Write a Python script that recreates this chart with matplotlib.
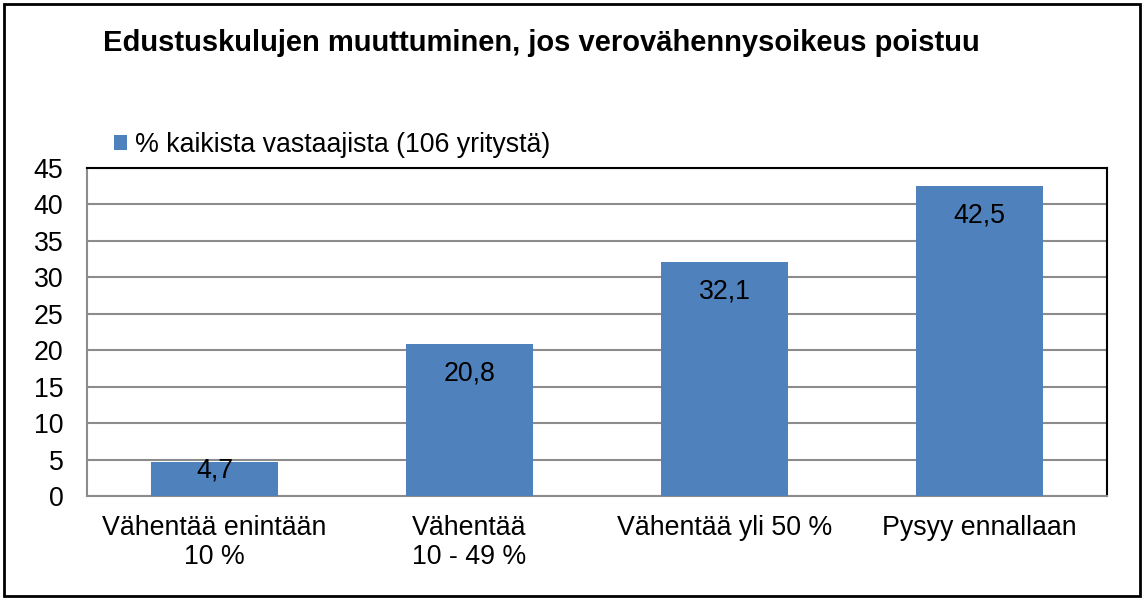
import matplotlib
matplotlib.use("Agg")
import matplotlib.pyplot as plt
from matplotlib.patches import Rectangle

plt.rcParams["font.family"] = ["Liberation Sans", "DejaVu Sans"]

categories = ["Vähentää enintään\n10 %", "Vähentää\n10 - 49 %", "Vähentää yli 50 %", "Pysyy ennallaan"]
values = [4.7, 20.8, 32.1, 42.5]
labels = ["4,7", "20,8", "32,1", "42,5"]
series_name = "% kaikista vastaajista (106 yritystä)"
title = "Edustuskulujen muuttuminen, jos verovähennysoikeus poistuu"

W, H = 1143, 599
fs = 19.3
fig = plt.figure(figsize=(W / 100, H / 100), dpi=100)
ax = fig.add_axes([87 / W, 1 - 496 / H, (1107 - 87) / W, (496 - 168) / H])

x = list(range(len(categories)))
bars = ax.bar(x, values, width=0.5, color="#4F81BD", label=series_name, zorder=3)

ax.set_xlim(-0.5, len(categories) - 0.5)
ax.set_ylim(0, 45)
ax.set_yticks(range(0, 46, 5))
ax.set_xticks(x)
ax.set_xticklabels(categories, fontsize=fs, linespacing=1.15)
ax.tick_params(axis="x", length=0, pad=14)
ax.tick_params(axis="y", length=0, pad=17, labelsize=fs)
ax.yaxis.grid(True, color="#8c8c8c", linewidth=1.5, zorder=0)
ax.set_axisbelow(True)

for side in ("left", "bottom"):
    ax.spines[side].set_color("#8c8c8c")
    ax.spines[side].set_linewidth(1.5)
for side in ("top", "right"):
    ax.spines[side].set_color("black")
    ax.spines[side].set_linewidth(1.5)

for bar, v, lab in zip(bars, values, labels):
    off = -21 if v > 10 else -6
    ax.annotate(lab, (bar.get_x() + bar.get_width() / 2, v), xytext=(0, off),
                textcoords="offset points", ha="center", va="center", fontsize=fs, zorder=4)

fig.text(103 / W, 1 - 43 / H, title, fontsize=21, fontweight="bold", ha="left", va="center")
ax.legend(loc="center left", bbox_to_anchor=(114 / W, 1 - 145 / H), bbox_transform=fig.transFigure,
          frameon=False, fontsize=fs, handlelength=0.5, handleheight=0.5, handletextpad=0.3,
          borderaxespad=0, borderpad=0)

fig.patches.append(Rectangle((4 / W, 3 / H), (1140 - 4) / W, (595 - 3) / H, transform=fig.transFigure,
                             fill=False, edgecolor="black", linewidth=2))

fig.savefig("out.png", dpi=100)
